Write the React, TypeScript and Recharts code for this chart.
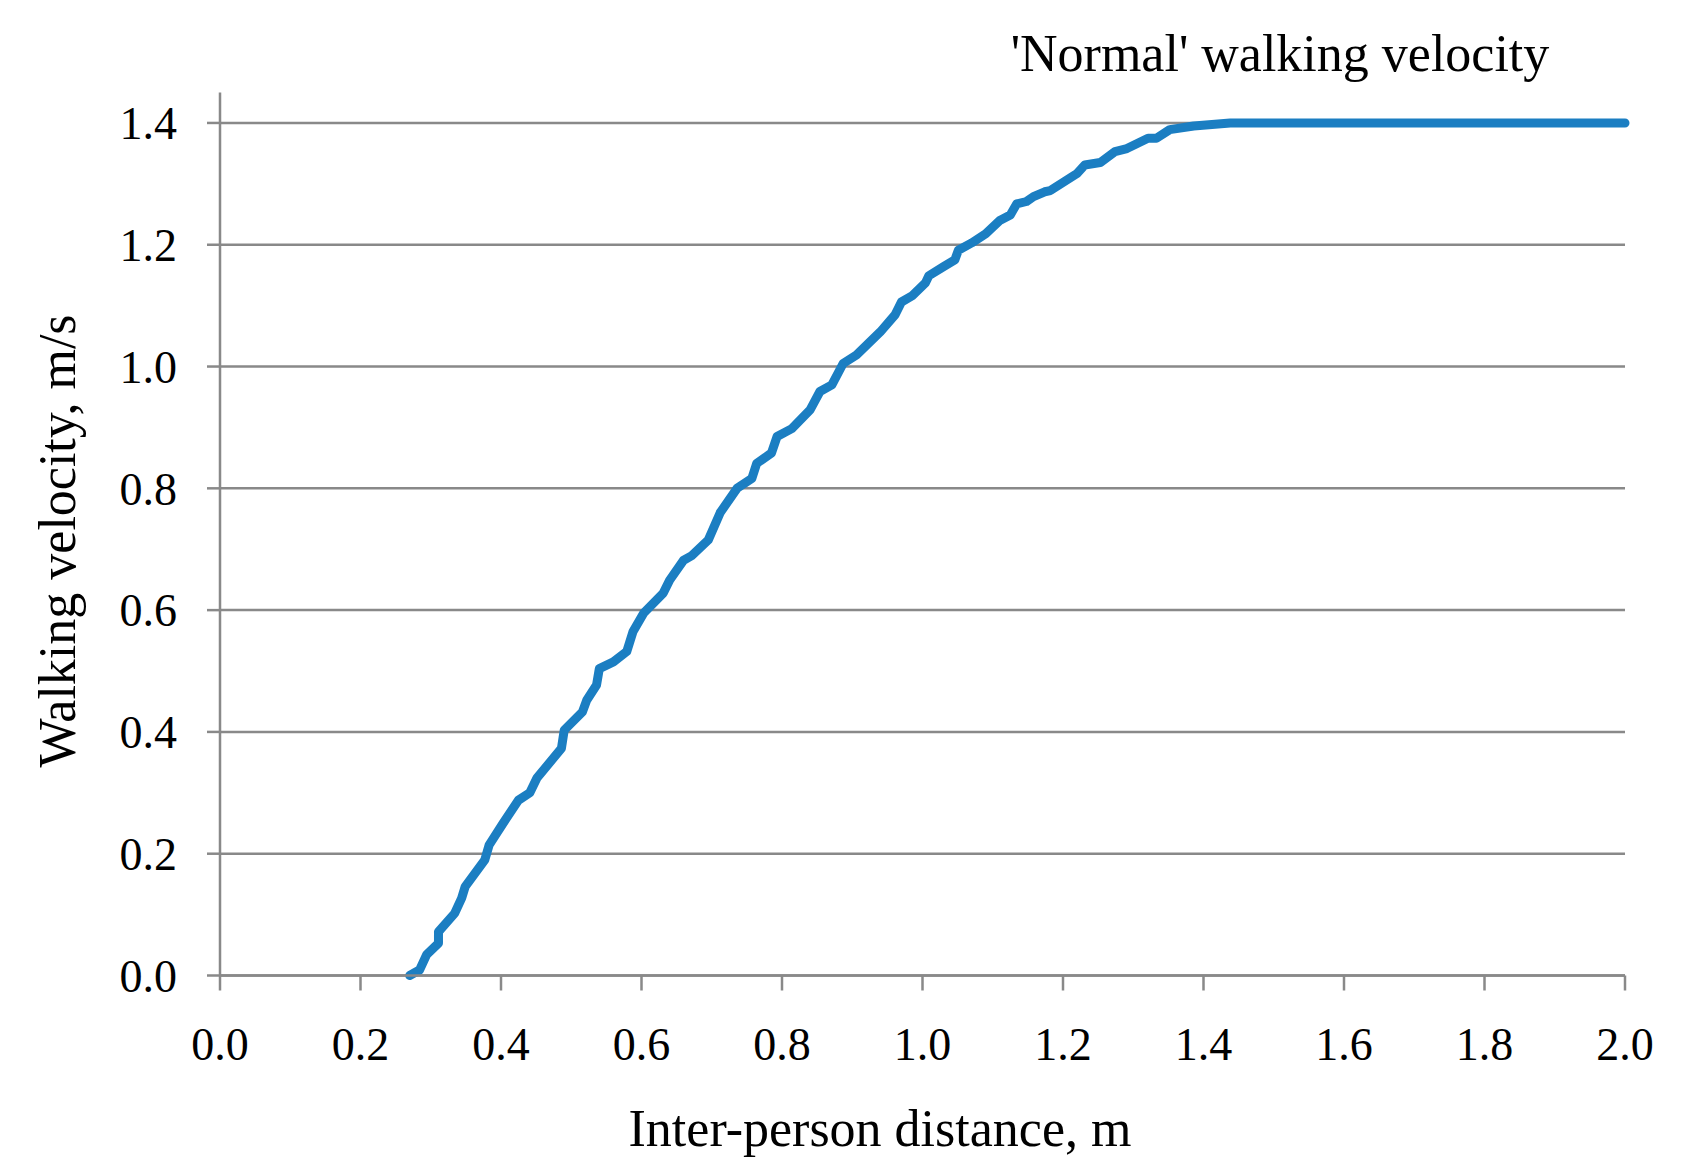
import React from 'react';
import { LineChart, Line, XAxis, YAxis, CartesianGrid, Label } from 'recharts';

// inter-person distance (m) and walking velocity (m/s)
const distance = [
  0.270, 0.284, 0.294, 0.311, 0.311, 0.334, 0.344, 0.349, 0.377, 0.383,
  0.403, 0.425, 0.441, 0.451, 0.486, 0.490, 0.516, 0.522, 0.536, 0.540,
  0.560, 0.579, 0.588, 0.603, 0.631, 0.640, 0.660, 0.671, 0.695, 0.712,
  0.736, 0.757, 0.764, 0.785, 0.793, 0.814, 0.840, 0.854, 0.871, 0.887,
  0.906, 0.940, 0.961, 0.970, 0.985, 1.004, 1.009, 1.030, 1.046, 1.051,
  1.070, 1.090, 1.110, 1.125, 1.134, 1.148, 1.158, 1.174, 1.182, 1.220,
  1.231, 1.253, 1.274, 1.291, 1.321, 1.333, 1.352, 1.386, 1.438, 2.000,
];
const velocity = [
  0.000, 0.009, 0.034, 0.053, 0.072, 0.102, 0.127, 0.146, 0.190, 0.214,
  0.250, 0.288, 0.300, 0.324, 0.373, 0.403, 0.433, 0.452, 0.477, 0.504,
  0.515, 0.532, 0.565, 0.595, 0.628, 0.649, 0.682, 0.689, 0.715, 0.760,
  0.800, 0.816, 0.841, 0.858, 0.885, 0.898, 0.929, 0.959, 0.970, 1.005,
  1.019, 1.057, 1.085, 1.106, 1.116, 1.137, 1.149, 1.164, 1.175, 1.191,
  1.203, 1.218, 1.240, 1.249, 1.267, 1.271, 1.279, 1.287, 1.289, 1.317,
  1.331, 1.335, 1.353, 1.358, 1.375, 1.375, 1.389, 1.395, 1.400, 1.400,
];

const xTicks = [0, 0.2, 0.4, 0.6, 0.8, 1.0, 1.2, 1.4, 1.6, 1.8, 2.0];
const yTicks = [0, 0.2, 0.4, 0.6, 0.8, 1.0, 1.2, 1.4];

const data = distance.map((d, i) => ({ d, v: velocity[i] }));

const FONT = "'Liberation Serif', 'Times New Roman', serif";
const GREY = '#898989';
const tickStyle = { fontSize: 46, fill: '#000', fontFamily: FONT };

export default function App() {
  return (
    <div style={{ position: 'absolute', left: 0, top: 0, width: 1700, height: 1171, background: '#fff' }}>
      <LineChart
        width={1700}
        height={1171}
        data={data}
        margin={{ top: 92.5, right: 75, bottom: 95.5, left: 0 }}
      >
        <CartesianGrid vertical={false} horizontalValues={yTicks} stroke={GREY} strokeWidth={2.5} />
        <XAxis
          dataKey="d"
          type="number"
          domain={[0, 2]}
          ticks={xTicks}
          tickFormatter={(t: number) => t.toFixed(1)}
          height={100}
          tickSize={15}
          tickMargin={37}
          stroke={GREY}
          strokeWidth={2.5}
          tick={tickStyle}
        >
          <Label
            content={() => (
              <text x={880} y={1146} textAnchor="middle" fontSize={52} fontFamily={FONT} fill="#000">
                Inter-person distance, m
              </text>
            )}
          />
        </XAxis>
        <YAxis
          type="number"
          domain={[0, 1.45]}
          ticks={yTicks}
          tickFormatter={(t: number) => t.toFixed(1)}
          width={220}
          tickSize={13}
          tickMargin={30}
          stroke={GREY}
          strokeWidth={2.5}
          tick={tickStyle}
        >
          <Label
            content={() => (
              <text
                x={75}
                y={541}
                transform="rotate(-90 75 541)"
                textAnchor="middle"
                fontSize={52}
                fontFamily={FONT}
                fill="#000"
              >
                Walking velocity, m/s
              </text>
            )}
          />
        </YAxis>
        <Line
          type="linear"
          dataKey="v"
          stroke="#1B7EC2"
          strokeWidth={9}
          strokeLinejoin="round"
          strokeLinecap="round"
          dot={false}
          activeDot={false}
          isAnimationActive={false}
        />
        <text x={1280} y={71} textAnchor="middle" fontSize={52} fontFamily={FONT} fill="#000">
          'Normal' walking velocity
        </text>
      </LineChart>
    </div>
  );
}
